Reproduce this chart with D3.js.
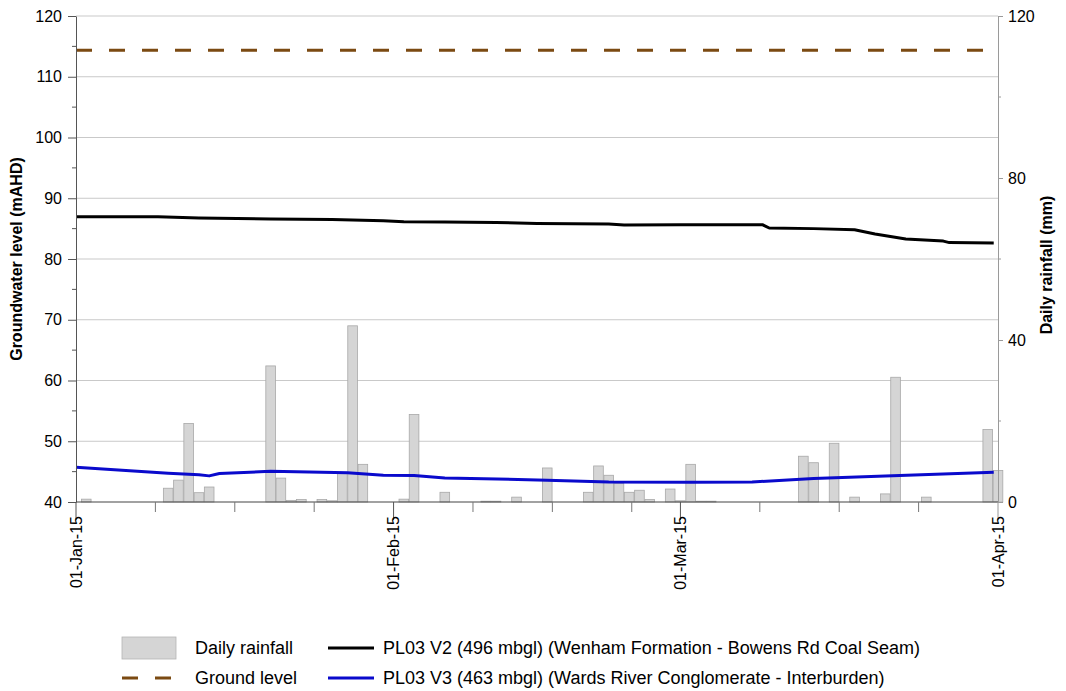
<!DOCTYPE html>
<html>
<head>
<meta charset="utf-8">
<script src="https://cdn.jsdelivr.net/npm/d3@7/dist/d3.min.js"></script>
<style>
  html, body { margin: 0; padding: 0; background: #fff; }
  svg { display: block; font-family: "Liberation Sans", Arial, sans-serif; }
</style>
</head>
<body>
<svg id="chart" width="1066" height="691"></svg>
<script>
// Daily rainfall (mm)
const rainDates = ["2015-01-02","2015-01-10","2015-01-11","2015-01-12","2015-01-13","2015-01-14",
  "2015-01-20","2015-01-21","2015-01-22","2015-01-23","2015-01-25","2015-01-26","2015-01-27",
  "2015-01-28","2015-01-29","2015-02-02","2015-02-03","2015-02-06","2015-02-10","2015-02-11",
  "2015-02-13","2015-02-16","2015-02-20","2015-02-21","2015-02-22","2015-02-23","2015-02-24",
  "2015-02-25","2015-02-26","2015-02-28","2015-03-01","2015-03-02","2015-03-03","2015-03-04",
  "2015-03-13","2015-03-14","2015-03-16","2015-03-18","2015-03-21","2015-03-22","2015-03-25",
  "2015-03-31","2015-04-01"];
const rainMm = [0.7,3.4,5.4,19.4,2.3,3.7,
  33.6,5.9,0.4,0.6,0.6,0.3,7.1,
  43.5,9.3,0.7,21.6,2.4,0.2,0.2,
  1.2,8.4,2.4,8.9,6.6,4.6,2.4,
  2.9,0.6,3.2,0.3,9.3,0.2,0.2,
  11.3,9.7,14.5,1.2,2.0,30.8,1.2,
  17.9,7.8];

// PL03 V2 (496 mbgl) groundwater level (mAHD)
const v2Dates = ["2015-01-01","2015-01-09","2015-01-13","2015-01-20","2015-01-26","2015-01-31",
  "2015-02-02","2015-02-06","2015-02-11","2015-02-15","2015-02-22","2015-02-23T12:00",
  "2015-03-01","2015-03-09T00:00","2015-03-09T16:00","2015-03-14","2015-03-18","2015-03-20",
  "2015-03-23","2015-03-26T16:00","2015-03-27T06:00","2015-03-31T14:00"];
const v2Level = [86.95,86.95,86.75,86.6,86.5,86.3,
  86.15,86.1,86.0,85.85,85.75,85.6,
  85.65,85.65,85.1,85.0,84.8,84.1,
  83.3,82.95,82.7,82.65];

// PL03 V3 (463 mbgl) groundwater level (mAHD)
const v3Dates = ["2015-01-01","2015-01-10","2015-01-13","2015-01-14","2015-01-15","2015-01-20",
  "2015-01-27T12:00","2015-01-31","2015-02-03","2015-02-06","2015-02-16","2015-02-22",
  "2015-03-02","2015-03-08","2015-03-14","2015-03-21","2015-03-31T14:00"];
const v3Level = [45.7,44.75,44.5,44.3,44.7,45.05,
  44.8,44.4,44.35,43.95,43.6,43.3,
  43.25,43.3,43.85,44.3,44.9];

// Ground level (mAHD)
const groundLevel = 114.35;

// Axis ticks
const levelTicks = [40,50,60,70,80,90,100,110,120];
const levelMinorTicks = [45,55,65,75,85,95,105,115];
const rainTicks = [0,40,80,120];
const rainMinorTicks = [20,60,100];
const monthTicks = ["2015-01-01","2015-02-01","2015-03-01","2015-04-01"];

const legendLabels = ["Daily rainfall","Ground level",
  "PL03 V2 (496 mbgl) (Wenham Formation - Bowens Rd Coal Seam)",
  "PL03 V3 (463 mbgl) (Wards River Conglomerate - Interburden)"];

const parse = d3.isoParse;
const svg = d3.select("#chart");

const plotL = 76, plotR = 998, plotT = 16, plotB = 502;

const x = d3.scaleTime()
  .domain([parse("2015-01-01"), parse("2015-04-01")])
  .range([plotL, plotR]);
const yL = d3.scaleLinear().domain([40, 120]).range([plotB, plotT]);
const yR = d3.scaleLinear().domain([0, 120]).range([plotB, plotT]);

// Horizontal gridlines
svg.append("g").selectAll("line")
  .data(levelTicks.filter(v => v > 40))
  .join("line")
  .attr("x1", plotL).attr("x2", plotR)
  .attr("y1", d => yL(d)).attr("y2", d => yL(d))
  .attr("stroke", "#c9c9c9").attr("stroke-width", 1);

// Rainfall bars
const rain = rainDates.map((d, i) => ({ date: parse(d), mm: rainMm[i] }));
const dayW = x(parse("2015-01-02")) - x(parse("2015-01-01"));
svg.append("g").selectAll("rect")
  .data(rain)
  .join("rect")
  .attr("x", d => x(d.date) - dayW / 2 + 0.3)
  .attr("width", dayW - 0.6)
  .attr("y", d => yR(d.mm))
  .attr("height", d => yR(0) - yR(d.mm))
  .attr("fill", "#d5d5d5")
  .attr("stroke", "#a8a8a8")
  .attr("stroke-width", 0.8);

// Ground level
svg.append("line")
  .attr("x1", plotL).attr("x2", plotR)
  .attr("y1", yL(groundLevel)).attr("y2", yL(groundLevel))
  .attr("stroke", "#7b4a12").attr("stroke-width", 3)
  .attr("stroke-dasharray", "16,17");

// Groundwater lines
const line = d3.line().x(d => x(d.date)).y(d => yL(d.v));
const v2 = v2Dates.map((d, i) => ({ date: parse(d), v: v2Level[i] }));
const v3 = v3Dates.map((d, i) => ({ date: parse(d), v: v3Level[i] }));
svg.append("path").datum(v2).attr("d", line)
  .attr("fill", "none").attr("stroke", "#000").attr("stroke-width", 3)
  .attr("stroke-linejoin", "round");
svg.append("path").datum(v3).attr("d", line)
  .attr("fill", "none").attr("stroke", "#0a0acc").attr("stroke-width", 3)
  .attr("stroke-linejoin", "round");

// Left axis
const gL = svg.append("g").attr("transform", `translate(${plotL},0)`)
  .call(d3.axisLeft(yL).tickValues(levelTicks).tickSize(8).tickPadding(6).tickSizeOuter(0));
gL.select(".domain").attr("stroke", "#555");
gL.selectAll(".tick line").attr("stroke", "#555");
gL.selectAll(".tick text").attr("font-size", 16).attr("fill", "#000")
  .attr("font-family", "'Liberation Sans', Arial, sans-serif");
gL.append("g").selectAll("line").data(levelMinorTicks).join("line")
  .attr("x1", -4).attr("x2", 0).attr("y1", d => yL(d)).attr("y2", d => yL(d))
  .attr("stroke", "#555");

// Right axis
const gR = svg.append("g").attr("transform", `translate(${plotR},0)`)
  .call(d3.axisRight(yR).tickValues(rainTicks).tickSize(5).tickPadding(5).tickSizeOuter(0));
gR.select(".domain").attr("stroke", "#9a9a9a");
gR.selectAll(".tick line").attr("stroke", "#9a9a9a");
gR.selectAll(".tick text").attr("font-size", 16).attr("fill", "#000")
  .attr("font-family", "'Liberation Sans', Arial, sans-serif");
gR.append("g").selectAll("line").data(rainMinorTicks).join("line")
  .attr("x1", 0).attr("x2", 3).attr("y1", d => yR(d)).attr("y2", d => yR(d))
  .attr("stroke", "#9a9a9a");

// Bottom axis: month ticks (long, labelled) and quarter-month minor ticks
const months = monthTicks.map(parse);
const minorDates = [];
months.slice(0, -1).forEach((m, i) => {
  const next = months[i + 1];
  for (let k = 1; ; k++) {
    const t = d3.timeHour.offset(m, Math.round(k * 7.75 * 24));
    if (+t >= +next - 3600e3 * 12) break;
    minorDates.push(t);
  }
});
const gX = svg.append("g");
gX.append("line").attr("x1", plotL).attr("x2", plotR)
  .attr("y1", plotB).attr("y2", plotB).attr("stroke", "#444").attr("stroke-width", 1.2);
gX.selectAll(".minor").data(minorDates).join("line").attr("class", "minor")
  .attr("x1", d => x(d)).attr("x2", d => x(d))
  .attr("y1", plotB).attr("y2", plotB + 10).attr("stroke", "#777");
gX.selectAll(".major").data(months).join("line").attr("class", "major")
  .attr("x1", d => x(d)).attr("x2", d => x(d))
  .attr("y1", plotB).attr("y2", plotB + 18)
  .attr("stroke", (d, i) => i === months.length - 1 ? "#9a9a9a" : "#555");
const fmt = d3.timeFormat("%d-%b-%y");
gX.selectAll("text").data(months).join("text")
  .attr("transform", d => `translate(${x(d)},${plotB + 14}) rotate(-90)`)
  .attr("text-anchor", "end").attr("dy", "0.35em")
  .attr("font-size", 16).text(d => fmt(d));

// Axis titles
svg.append("text")
  .attr("transform", `translate(22,${(plotT + plotB) / 2}) rotate(-90)`)
  .attr("text-anchor", "middle").attr("font-size", 16).attr("font-weight", "bold")
  .text("Groundwater level (mAHD)");
svg.append("text")
  .attr("transform", `translate(1052,265) rotate(-90)`)
  .attr("text-anchor", "middle").attr("font-size", 16).attr("font-weight", "bold")
  .text("Daily rainfall (mm)");

// Legend
const lg = svg.append("g").attr("font-size", 18);
const row1 = 648, row2 = 678;
lg.append("rect").attr("x", 122).attr("y", row1 - 11).attr("width", 54).attr("height", 22)
  .attr("fill", "#d5d5d5").attr("stroke", "#b5b5b5").attr("stroke-width", 0.8);
lg.append("text").attr("x", 195).attr("y", row1).attr("dy", "0.35em").text(legendLabels[0]);
lg.append("line").attr("x1", 122).attr("x2", 176).attr("y1", row2).attr("y2", row2)
  .attr("stroke", "#7b4a12").attr("stroke-width", 3).attr("stroke-dasharray", "16,17");
lg.append("text").attr("x", 195).attr("y", row2).attr("dy", "0.35em").text(legendLabels[1]);
lg.append("line").attr("x1", 328).attr("x2", 374).attr("y1", row1).attr("y2", row1)
  .attr("stroke", "#000").attr("stroke-width", 3);
lg.append("text").attr("x", 383).attr("y", row1).attr("dy", "0.35em").text(legendLabels[2]);
lg.append("line").attr("x1", 328).attr("x2", 374).attr("y1", row2).attr("y2", row2)
  .attr("stroke", "#0a0acc").attr("stroke-width", 3);
lg.append("text").attr("x", 383).attr("y", row2).attr("dy", "0.35em").text(legendLabels[3]);
</script>
</body>
</html>
